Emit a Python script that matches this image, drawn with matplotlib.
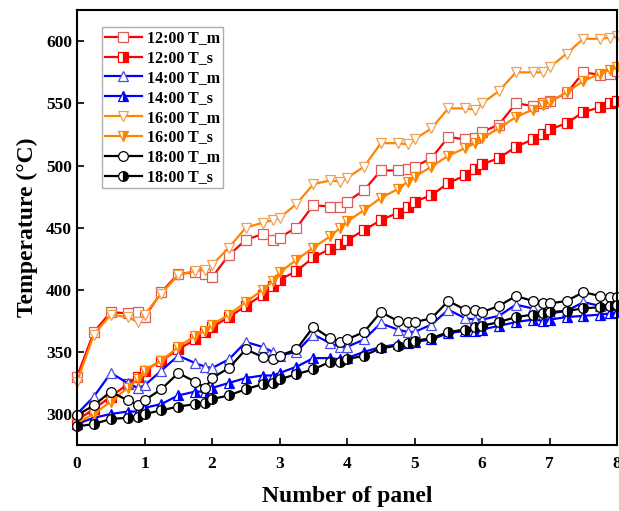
# coding: utf-8
import matplotlib
matplotlib.use("Agg")
import matplotlib.pyplot as plt

plt.rcParams['font.family'] = ['Liberation Serif', 'DejaVu Serif']
plt.rcParams['font.weight'] = 'bold'

# positions along the panels
panel = [0, 0.25, 0.5, 0.75, 0.9, 1, 1.25, 1.5, 1.75, 1.9,
         2, 2.25, 2.5, 2.75, 2.9, 3, 3.25, 3.5, 3.75, 3.9,
         4, 4.25, 4.5, 4.75, 4.9, 5, 5.25, 5.5, 5.75, 5.9,
         6, 6.25, 6.5, 6.75, 6.9, 7, 7.25, 7.5, 7.75, 7.9, 8]

t12_m = [330, 366, 382, 381, 382, 378, 398, 413, 414, 413,
         410, 428, 440, 445, 440, 442, 450, 468, 467, 467,
         471, 480, 496, 496, 497, 499, 506, 523, 521, 522,
         527, 533, 550, 548, 550, 552, 558, 575, 573, 574, 576]
t12_s = [295, 304, 314, 324, 330, 335, 343, 352, 360, 366,
         370, 378, 387, 396, 403, 408, 415, 426, 433, 437,
         440, 448, 456, 462, 467, 471, 476, 486, 492, 497,
         501, 506, 515, 521, 525, 529, 534, 543, 547, 550, 552]
t14_m = [300, 314, 333, 325, 321, 323, 335, 347, 341, 338,
         337, 344, 358, 354, 350, 347, 350, 364, 357, 354,
         354, 360, 373, 368, 366, 366, 372, 384, 377, 376,
         376, 379, 388, 385, 380, 381, 383, 390, 387, 388, 388]
t14_s = [292, 297, 300, 302, 302, 305, 308, 315, 318, 318,
         321, 325, 329, 331, 331, 333, 338, 345, 345, 344,
         345, 350, 354, 356, 357, 358, 360, 365, 367, 367,
         368, 371, 374, 376, 375, 376, 378, 379, 380, 381, 382]
t16_m = [326, 364, 380, 378, 374, 380, 397, 412, 415, 416,
         420, 434, 450, 454, 456, 458, 469, 485, 488, 487,
         490, 499, 518, 518, 517, 521, 530, 546, 546, 545,
         550, 560, 575, 575, 575, 579, 590, 602, 602, 603, 604]
t16_s = [293, 300, 310, 321, 328, 335, 343, 354, 363, 367,
         372, 380, 390, 400, 407, 414, 424, 434, 443, 450,
         455, 464, 474, 481, 487, 491, 499, 508, 514, 518,
         522, 530, 539, 545, 549, 551, 559, 568, 574, 577, 579]
t18_m = [299, 307, 318, 311, 307, 311, 320, 333, 326, 321,
         329, 337, 352, 346, 344, 347, 352, 370, 361, 358,
         360, 366, 382, 375, 374, 374, 377, 391, 384, 384,
         382, 387, 395, 391, 389, 389, 391, 398, 395, 394, 394]
t18_s = [290, 292, 296, 297, 298, 300, 303, 306, 308, 309,
         312, 315, 320, 324, 325, 328, 332, 336, 342, 342,
         344, 347, 353, 355, 357, 359, 361, 366, 368, 370,
         371, 374, 378, 380, 381, 382, 383, 385, 386, 387, 388]

red = '#FF0000'
blue = '#0000FF'
orange = '#FF8400'
black = '#000000'

series = [
    (t12_m, '12:00 T_m', red, 's', 'none', '#E05A5A'),
    (t12_s, '12:00 T_s', red, 's', 'right', red),
    (t14_m, '14:00 T_m', blue, '^', 'none', '#4A4AE8'),
    (t14_s, '14:00 T_s', blue, '^', 'right', blue),
    (t16_m, '16:00 T_m', orange, 'v', 'none', '#F0A050'),
    (t16_s, '16:00 T_s', orange, 'v', 'right', orange),
    (t18_m, '18:00 T_m', black, 'o', 'none', black),
    (t18_s, '18:00 T_s', black, 'o', 'right', black),
]

fig = plt.figure(figsize=(6.19, 5.11), dpi=100)
ax = fig.add_axes([0.1244, 0.129, 0.8726, 0.851])

for vals, name, col, mk, fill, edge in series:
    if fill == 'none':
        ax.plot(panel, vals, '-', color=col, lw=1.6, marker=mk, ms=7,
                mfc='white', mec=edge, mew=0.9, label=name, clip_on=False)
    else:
        ax.plot(panel, vals, '-', color=col, lw=1.6, marker=mk, ms=7,
                fillstyle='right', mfc=col, mfcalt='white', mec=edge,
                mew=0.9, label=name, clip_on=False)

ax.set_xlim(0, 8)
ax.set_ylim(275, 625)
ax.set_xticks(range(0, 9))
ax.set_yticks(range(300, 601, 50))
ax.tick_params(direction='in', length=5, width=1.2, labelsize=12.5)
ax.tick_params(axis='x', pad=8)
for s in ax.spines.values():
    s.set_linewidth(1.5)

ax.set_xlabel('Number of panel', fontsize=17, fontweight='bold', labelpad=10)
ax.set_ylabel('Temperature (°C)', fontsize=17, fontweight='bold', labelpad=6)

leg = ax.legend(loc='upper left', bbox_to_anchor=(0.046, 0.961), borderaxespad=0,
                fancybox=False, edgecolor='#999999', fontsize=11.5,
                handlelength=2.3, labelspacing=0.24, handletextpad=0.3,
                borderpad=0.2)
leg.get_frame().set_linewidth(1.0)

fig.savefig('out.png', dpi=100)
